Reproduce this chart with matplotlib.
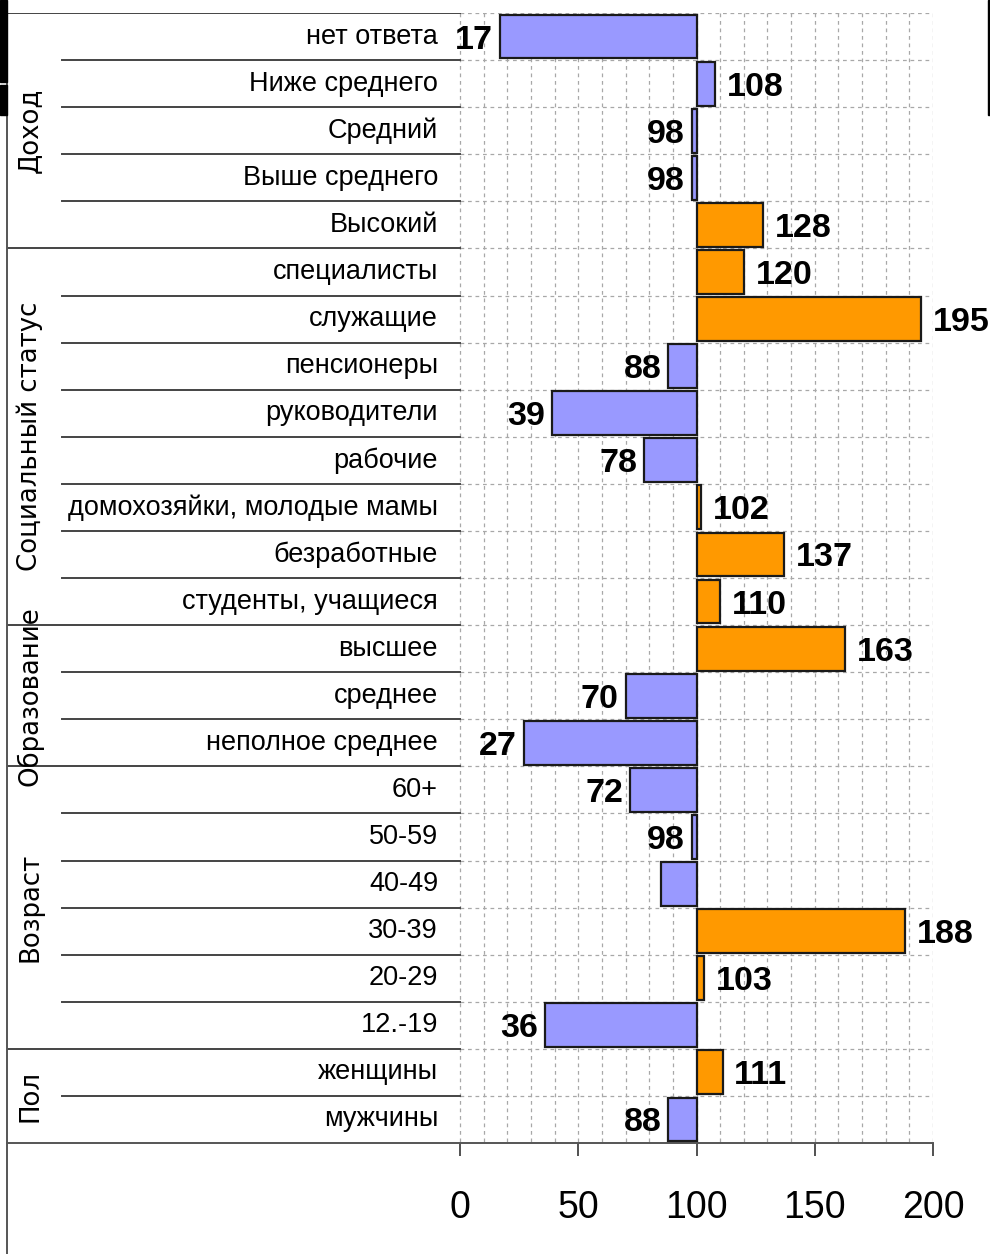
import matplotlib.pyplot as plt
from matplotlib.lines import Line2D
from matplotlib.patches import Rectangle

groups = ['Доход', 'Социальный статус', 'Образование', 'Возраст', 'Пол']
group_sizes = [5, 8, 3, 6, 2]
categories = ['нет ответа', 'Ниже среднего', 'Средний', 'Выше среднего', 'Высокий',
              'специалисты', 'служащие', 'пенсионеры', 'руководители', 'рабочие',
              'домохозяйки, молодые мамы', 'безработные', 'студенты, учащиеся',
              'высшее', 'среднее', 'неполное среднее',
              '60+', '50-59', '40-49', '30-39', '20-29', '12.-19',
              'женщины', 'мужчины']
values = [17, 108, 98, 98, 128,
          120, 195, 88, 39, 78, 102, 137, 110,
          163, 70, 27,
          72, 98, 85, 188, 103, 36,
          111, 88]
value_labels = ['17', '108', '98', '98', '128',
                '120', '195', '88', '39', '78', '102', '137', '110',
                '163', '70', '27',
                '72', '98', '', '188', '103', '36',
                '111', '88']
bar_colors = ['blue', 'blue', 'blue', 'blue', 'orange',
              'orange', 'orange', 'blue', 'blue', 'blue', 'orange', 'orange', 'orange',
              'orange', 'blue', 'blue',
              'blue', 'blue', 'blue', 'orange', 'orange', 'blue',
              'orange', 'blue']
xticks = [0, 50, 100, 150, 200]

palette = {'blue': '#9999ff', 'orange': '#ff9900'}
sans = ['Liberation Sans', 'DejaVu Sans']
W, H = 990, 1254

fig = plt.figure(figsize=(W / 100, H / 100), dpi=100)
# axes span from the left frame line (px 7) to value 200 (px 933)
x0_px, x200_px, top_px, bot_px = 7, 933, 13, 1143
ax = fig.add_axes([x0_px / W, 1 - bot_px / H, (x200_px - x0_px) / W, (bot_px - top_px) / H])
scale = (x200_px - 460) / 200.0
xmin = -(460 - x0_px) / scale
ax.set_xlim(xmin, 200)
n = len(categories)
ax.set_ylim(n - 0.5, -0.5)

grid_kw = dict(color='#a8a8a8', lw=0.9, linestyle=(0, (3, 3)), zorder=1)
for gx in range(0, 201, 10):
    ax.plot([gx, gx], [-0.5, n - 0.5], **grid_kw)
for i in range(n):
    ax.plot([0, 200], [i - 0.5, i - 0.5], **grid_kw)

# separators on the label side
bounds = [-0.5]
for s in group_sizes:
    bounds.append(bounds[-1] + s)
cat_left = (62 - 460) / scale
for i in range(n):
    y = i - 0.5
    if y in bounds:
        ax.plot([xmin, 0], [y, y], color='#444444', lw=1.4, zorder=2)
    else:
        ax.plot([cat_left, 0], [y, y], color='#444444', lw=1.4, zorder=2)

ypos = list(range(n))
ax.barh(ypos, [v - 100 for v in values], left=100, height=0.93,
        color=[palette[c] for c in bar_colors], edgecolor='#1a1a1a', linewidth=1.6, zorder=3)

for i, (v, lab) in enumerate(zip(values, value_labels)):
    if not lab:
        continue
    if v < 100:
        ax.annotate(lab, (v, i), xytext=(-5, -2.5), textcoords='offset points',
                    ha='right', va='center', fontsize=24.5, fontweight='bold', family=sans)
    else:
        ax.annotate(lab, (v, i), xytext=(8.5, -2.5), textcoords='offset points',
                    ha='left', va='center', fontsize=24.5, fontweight='bold', family=sans)

lab_x = (438 - 460) / scale
for i, c in enumerate(categories):
    ax.text(lab_x, i, c, ha='right', va='center', fontsize=19.5, family=sans)

grp_x = (30 - 460) / scale
for g, s, b in zip(groups, group_sizes, bounds):
    ax.text(grp_x, b + s / 2, g, rotation=90, ha='center', va='center', fontsize=18.7,
            family='DejaVu Sans')

ax.set_xticks(xticks)
ax.set_xticklabels([str(t) for t in xticks], fontsize=27, family=sans)
ax.tick_params(axis='x', direction='out', length=9.5, width=1.2, color='#333333', pad=24)
ax.set_yticks([])
for side in ['top', 'right']:
    ax.spines[side].set_visible(False)
ax.spines['left'].set_color('#555555')
ax.spines['bottom'].set_color('#555555')
ax.spines['left'].set_linewidth(1.4)
ax.spines['bottom'].set_linewidth(1.4)

# frame line continues to the bottom edge, plus the dark screenshot edges
fig.add_artist(Line2D([x0_px / W, x0_px / W], [0, 1 - bot_px / H], color='#555555', lw=1.4))
fig.add_artist(Rectangle((0, 1 - 82 / H), 7 / W, 82 / H, color='black', transform=fig.transFigure))
fig.add_artist(Rectangle((0, 1 - 115 / H), 7 / W, 30 / H, color='black', transform=fig.transFigure))
fig.add_artist(Rectangle((988 / W, 1 - 115 / H), 2 / W, 115 / H, color='black', transform=fig.transFigure))

fig.savefig('out.png', dpi=100)
